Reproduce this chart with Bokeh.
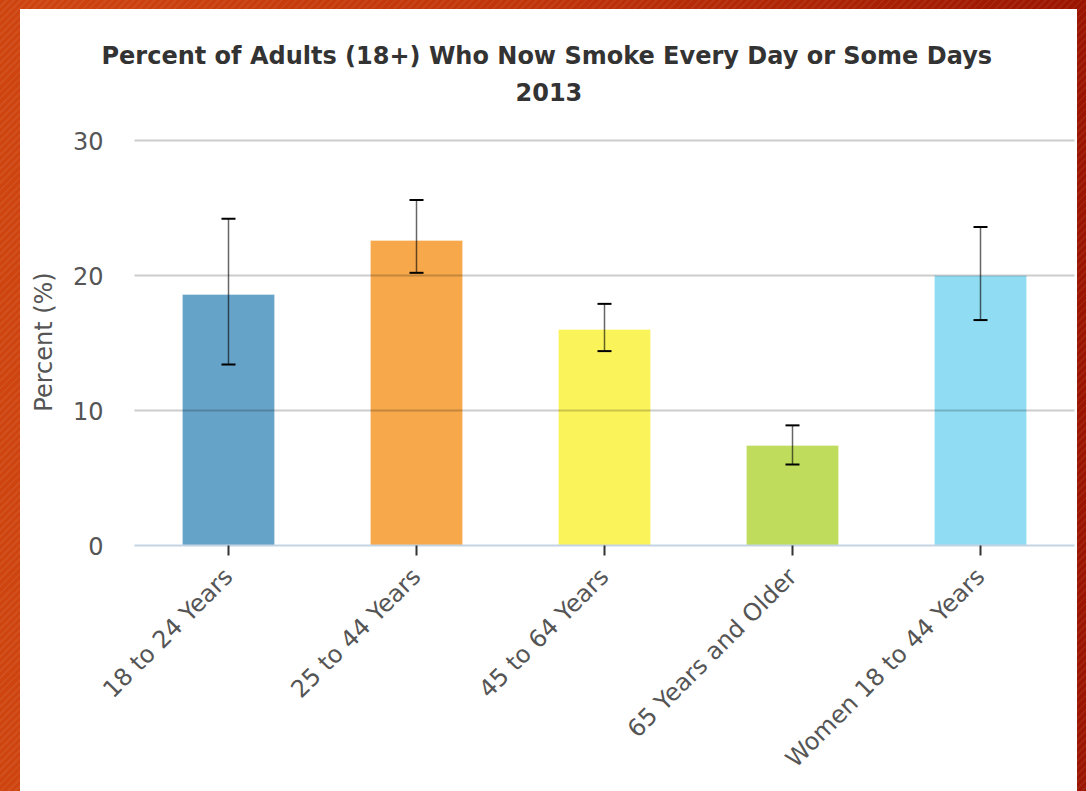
import math
from bokeh.plotting import figure
from bokeh.models import (ColumnDataSource, FactorRange, Range1d, Whisker, TeeHead,
                          Title, FixedTicker)
from bokeh.layouts import column
from bokeh.embed import file_html
from bokeh.resources import INLINE

categories = ["18 to 24 Years", "25 to 44 Years", "45 to 64 Years",
              "65 Years and Older", "Women 18 to 44 Years"]
values = [18.6, 22.6, 16.0, 7.4, 20.0]
lower = [13.4, 20.2, 14.4, 6.0, 16.7]
upper = [24.2, 25.6, 17.9, 8.9, 23.6]
colors = ["#66a3c8", "#f6a84a", "#fbf35a", "#bfdc5c", "#90dcf2"]
y_ticks = [0, 10, 20, 30]
title_line1 = "Percent of Adults (18+) Who Now Smoke Every Day or Some Days"
title_line2 = "2013"

FONT = "DejaVu Sans"

src = ColumnDataSource(dict(cat=categories, val=values, lo=lower, hi=upper, color=colors))

p = figure(x_range=FactorRange(*categories, range_padding=0), y_range=Range1d(0, 30.15),
           width=1057, height=782, output_backend="svg", toolbar_location=None,
           min_border_left=114, min_border_right=3, min_border_top=129, min_border_bottom=246)
p.title = None
p.outline_line_color = None
p.background_fill_color = "white"
p.border_fill_color = "white"
p.styles = {"background-color": "white"}

p.vbar(x="cat", top="val", width=0.49, source=src, fill_color="color",
       line_color="white", line_alpha=0.35, line_width=1)

w = Whisker(base="cat", lower="lo", upper="hi", source=src, level="overlay",
            line_color="black", line_alpha=0.6, line_width=1.5,
            upper_head=TeeHead(size=14, line_color="black", line_width=2),
            lower_head=TeeHead(size=14, line_color="black", line_width=2))
p.add_layout(w)

# grid
p.xgrid.grid_line_color = None
p.ygrid.grid_line_color = "black"
p.ygrid.grid_line_alpha = 0.2
p.ygrid.grid_line_width = 2
p.ygrid.level = "overlay"

# y axis
p.yaxis.ticker = FixedTicker(ticks=y_ticks)
p.yaxis.axis_line_color = None
p.yaxis.major_tick_line_color = None
p.yaxis.minor_tick_line_color = None
p.yaxis.major_label_text_font = FONT
p.yaxis.major_label_text_font_size = "24px"
p.yaxis.major_label_text_color = "#555555"
p.yaxis.major_label_standoff = 25
p.yaxis.axis_label = "Percent (%)"
p.yaxis.axis_label_text_font = FONT
p.yaxis.axis_label_text_font_size = "24px"
p.yaxis.axis_label_text_font_style = "normal"
p.yaxis.axis_label_text_color = "#555555"
p.yaxis.axis_label_standoff = 12

# x axis
p.xaxis.axis_line_color = "#c3d3e3"
p.xaxis.axis_line_width = 2
p.xaxis.major_tick_line_color = "#333333"
p.xaxis.major_tick_line_width = 2
p.xaxis.major_tick_out = 10
p.xaxis.major_tick_in = 0
p.xaxis.major_label_orientation = math.pi / 4
p.xaxis.major_label_text_font = FONT
p.xaxis.major_label_text_font_size = "24px"
p.xaxis.major_label_text_color = "#555555"
p.xaxis.major_label_standoff = 17

# titles
t2 = Title(text=title_line2, align="left", offset=381, text_font=FONT,
           text_font_size="24px", text_font_style="bold", text_color="#333333", standoff=76)
t1 = Title(text=title_line1, align="left", offset=-33, text_font=FONT,
           text_font_size="24px", text_font_style="bold", text_color="#333333", standoff=-54)
p.add_layout(t2, "above")
p.add_layout(t1, "above")

root = column(p, styles={
    "margin": "-8px",
    "padding": "17px 9px 0px 28px",
    "background": "repeating-linear-gradient(135deg, rgba(255,255,255,0.06) 0px, rgba(255,255,255,0.06) 2px, rgba(0,0,0,0.0) 2px, rgba(0,0,0,0.0) 5px), linear-gradient(90deg, #cf4510 0%, #c0340a 50%, #9a1400 100%)",
})

open("out.html", "w").write(file_html(root, INLINE))
